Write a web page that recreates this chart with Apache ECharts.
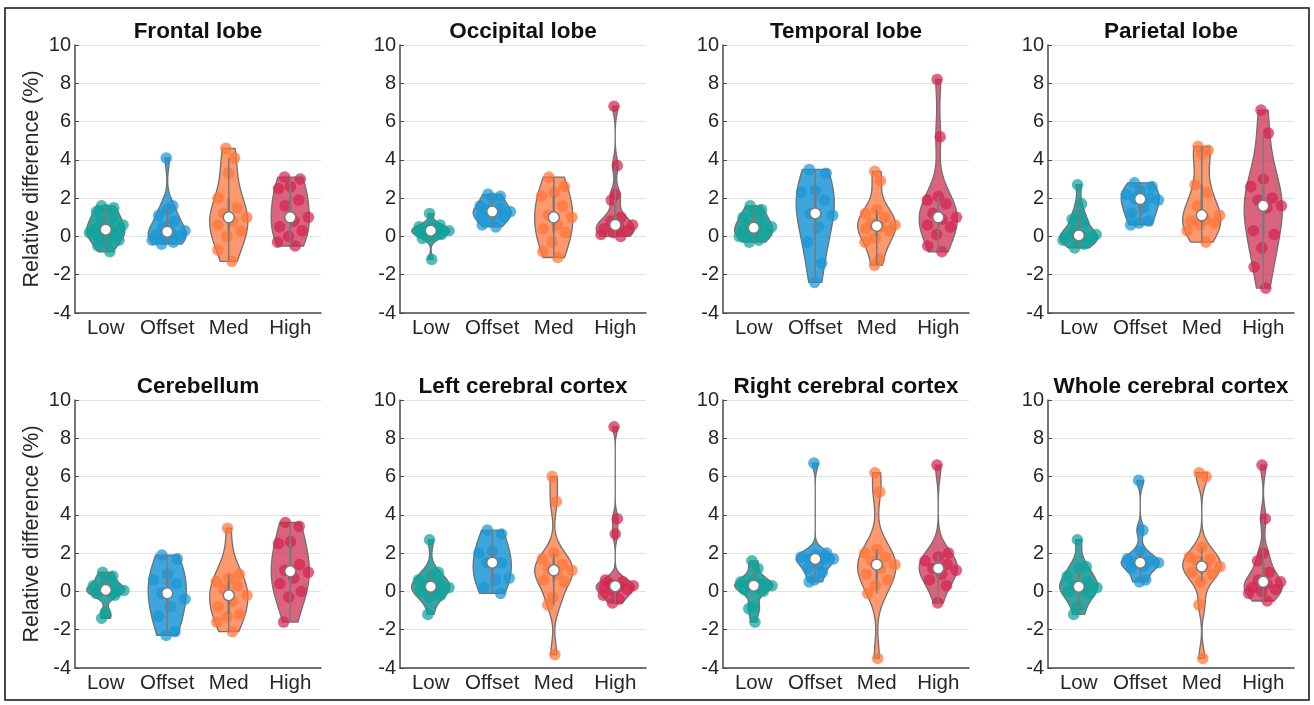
<!DOCTYPE html>
<html>
<head>
<meta charset="utf-8">
<script src="https://cdn.jsdelivr.net/npm/echarts@6/dist/echarts.min.js"></script>
<style>
  html, body { margin: 0; padding: 0; background: #fff; }
  #main { width: 1314px; height: 705px; }
</style>
</head>
<body>
<div id="main"></div>
<script>
// groups on the x axis of every panel
const groups = ['Low', 'Offset', 'Med', 'High'];
const regionTitles = ['Frontal lobe', 'Occipital lobe', 'Temporal lobe', 'Parietal lobe',
  'Cerebellum', 'Left cerebral cortex', 'Right cerebral cortex', 'Whole cerebral cortex'];

// relative difference (%) per subject, one list per group: Low, Offset, Med, High
const frontalLobe = [
  [1.6, 1.5, 1.4, 1.3, 1.0, 0.8, 0.6, 0.5, 0.4, 0.3, 0.3, 0.2, 0.1, 0.0, -0.2, -0.3, -0.5, -0.8],
  [4.1, 1.6, 1.4, 1.1, 0.8, 0.5, 0.3, 0.2, 0.1, 0.0, -0.1, -0.2, -0.3, -0.4],
  [4.6, 4.1, 3.3, 2.0, 1.5, 1.2, 1.0, 0.8, 0.6, 0.3, 0.0, -0.7, -1.3],
  [3.1, 3.0, 2.6, 2.5, 1.9, 1.6, 1.0, 0.8, 0.5, 0.3, 0.0, -0.3, -0.5]
];
const occipitalLobe = [
  [1.2, 0.6, 0.5, 0.5, 0.4, 0.3, 0.3, 0.2, 0.2, 0.1, 0.0, -0.1, -1.2],
  [2.2, 2.1, 2.0, 1.6, 1.5, 1.4, 1.3, 1.2, 1.1, 1.0, 0.8, 0.6, 0.5],
  [3.1, 2.6, 2.3, 2.1, 1.6, 1.1, 1.0, 0.6, 0.4, 0.2, -0.3, -0.8, -1.1],
  [6.8, 3.7, 2.2, 1.9, 1.0, 0.8, 0.6, 0.5, 0.4, 0.3, 0.2, 0.1, 0.0]
];
const temporalLobe = [
  [1.6, 1.4, 1.2, 1.0, 0.8, 0.6, 0.5, 0.4, 0.3, 0.2, 0.1, 0.0, -0.2, -0.3],
  [3.5, 3.3, 2.4, 2.3, 1.9, 1.2, 1.1, 0.5, -0.3, -1.4, -2.4],
  [3.4, 2.9, 1.4, 1.2, 1.0, 0.7, 0.6, 0.5, 0.4, 0.3, -0.1, -0.3, -1.2, -1.5],
  [8.2, 5.2, 2.1, 1.9, 1.7, 1.2, 1.0, 0.9, 0.6, 0.5, 0.1, -0.5, -0.8]
];
const parietalLobe = [
  [2.7, 1.7, 1.1, 0.9, 0.7, 0.3, 0.1, 0.0, 0.0, -0.1, -0.1, -0.2, -0.4, -0.6],
  [2.8, 2.6, 2.4, 2.2, 2.0, 2.0, 1.9, 1.5, 1.2, 0.8, 0.7, 0.6],
  [4.7, 4.5, 4.3, 2.7, 2.3, 1.6, 1.1, 0.9, 0.8, 0.7, 0.6, 0.3, -0.3],
  [6.6, 5.4, 3.0, 2.6, 2.0, 1.9, 1.6, 1.5, 0.3, 0.1, -0.6, -1.6, -2.7]
];
const cerebellum = [
  [1.0, 0.8, 0.6, 0.3, 0.2, 0.1, 0.05, 0.0, -0.1, -0.2, -1.1, -1.4],
  [1.9, 1.7, 0.9, 0.6, 0.4, -0.1, -0.4, -0.8, -1.3, -2.1, -2.3],
  [3.3, 0.9, 0.7, 0.5, 0.3, 0.1, -0.2, -0.5, -0.8, -1.2, -1.3, -1.6, -2.1],
  [3.6, 3.4, 2.6, 2.5, 1.4, 1.1, 1.0, 0.7, 0.4, 0.0, -0.3, -1.6]
];
const leftCortex = [
  [2.7, 1.0, 0.8, 0.6, 0.4, 0.3, 0.2, 0.1, 0.0, -0.2, -0.3, -1.2],
  [3.2, 3.0, 2.1, 2.0, 1.5, 1.5, 0.7, 0.6, 0.2, -0.1],
  [6.0, 4.7, 2.0, 1.7, 1.4, 1.2, 1.1, 0.9, 0.6, 0.5, -0.3, -0.7, -3.3],
  [8.6, 3.8, 3.0, 0.6, 0.5, 0.4, 0.3, 0.25, 0.2, 0.1, 0.0, -0.2, -0.4, -0.6]
];
const rightCortex = [
  [1.6, 1.2, 0.6, 0.5, 0.4, 0.35, 0.3, 0.2, 0.1, 0.0, -0.8, -0.9, -1.6],
  [6.7, 2.0, 1.9, 1.8, 1.7, 1.7, 1.7, 1.4, 1.2, 1.0, 0.6, 0.5],
  [6.2, 5.2, 2.2, 2.0, 1.8, 1.6, 1.4, 1.2, 0.9, 0.6, 0.3, -0.1, -3.5],
  [6.6, 2.0, 1.8, 1.6, 1.4, 1.2, 1.1, 0.9, 0.6, 0.3, -0.6]
];
const wholeCortex = [
  [2.7, 1.3, 1.2, 0.8, 0.5, 0.3, 0.2, 0.1, 0.0, -0.1, -0.8, -1.2],
  [5.8, 3.2, 2.1, 1.7, 1.6, 1.5, 1.5, 1.3, 1.2, 0.6, 0.5],
  [6.2, 6.0, 2.3, 1.8, 1.7, 1.6, 1.3, 1.3, 1.0, 0.9, 0.5, -0.7, -3.5],
  [6.6, 3.8, 2.0, 1.6, 1.0, 0.6, 0.5, 0.4, 0.2, 0.1, 0.0, -0.1, -0.5]
];
const panels = [frontalLobe, occipitalLobe, temporalLobe, parietalLobe,
  cerebellum, leftCortex, rightCortex, wholeCortex];

const pointColors = ['#0fa39b', '#1b95d6', '#ff7438', '#d3264f'];
const violinColors = ['rgba(16,150,144,0.85)', 'rgba(28,150,214,0.85)', 'rgba(255,128,72,0.8)', 'rgba(208,55,90,0.78)'];
const font = "'Liberation Sans', Arial, Helvetica, sans-serif";

const gridLeft = [75, 400, 723, 1048];
const gridTop = [45, 400];
const gridW = 246, gridH = 268;

function quantile(sorted, p) {
  const pos = (sorted.length - 1) * p;
  const lo = Math.floor(pos), hi = Math.ceil(pos);
  return sorted[lo] + (sorted[hi] - sorted[lo]) * (pos - lo);
}

// summary + kernel density (robust bandwidth, slightly smoothed)
function getStats(vals) {
  const s = vals.slice().sort((a, b) => a - b);
  const n = s.length;
  const med = quantile(s, 0.5);
  const dev = s.map(v => Math.abs(v - med)).sort((a, b) => a - b);
  let sig = quantile(dev, 0.5) / 0.6745;
  if (sig <= 0) sig = s[n - 1] - s[0];
  const bw = 1.2 * sig * Math.pow(4 / (3 * n), 0.2);
  const dens = y => s.reduce((acc, v) => acc + Math.exp(-0.5 * Math.pow((y - v) / bw, 2)), 0);
  const q1 = quantile(s, 0.25), q3 = quantile(s, 0.75);
  const iqr = q3 - q1;
  const loW = Math.max(q1 - 1.5 * iqr, Math.min(...s.filter(v => v >= q1 - 1.5 * iqr)));
  const hiW = Math.min(q3 + 1.5 * iqr, Math.max(...s.filter(v => v <= q3 + 1.5 * iqr)));
  const steps = 80;
  const ys = [];
  let dmax = 0;
  for (let j = 0; j <= steps; j++) {
    const y = s[0] + (s[n - 1] - s[0]) * j / steps;
    const d = dens(y);
    if (d > dmax) dmax = d;
    ys.push([y, d]);
  }
  return { s, med, q1, q3, loW, hiW, ys, dmax, dens };
}

function makeRenderer(panel) {
  const stats = panel.map(getStats);
  return function (params, api) {
    const k = api.value(0);
    const st = stats[k];
    const vals = panel[k];
    const cx = api.coord([k, 0])[0];
    const half = api.size([1, 0])[0] * 0.31;
    const children = [];

    // violin outline
    const left = [], right = [];
    st.ys.forEach(([y, d]) => {
      const py = api.coord([k, y])[1];
      const w = half * d / st.dmax;
      left.push([cx - w, py]);
      right.push([cx + w, py]);
    });
    children.push({
      type: 'polygon',
      shape: { points: left.concat(right.reverse()) },
      style: { fill: violinColors[k], stroke: '#707070', lineWidth: 1.3 }
    });

    // jittered points (spread scaled by density)
    vals.forEach((v, i) => {
      const py = api.coord([k, v])[1];
      const w = half * st.dens(v) / st.dmax;
      const sgn = ((i * 0.6180339887 + 0.27) % 1) * 2 - 1;
      children.push({
        type: 'circle',
        shape: { cx: cx + sgn * w, cy: py, r: 5.8 },
        style: { fill: pointColors[k], opacity: 0.72 }
      });
    });

    // whisker + box
    children.push({
      type: 'line',
      shape: { x1: cx, y1: api.coord([k, st.loW])[1], x2: cx, y2: api.coord([k, st.hiW])[1] },
      style: { stroke: '#7a7a7a', lineWidth: 1.5 }
    });
    children.push({
      type: 'line',
      shape: { x1: cx, y1: api.coord([k, st.q1])[1], x2: cx, y2: api.coord([k, st.q3])[1] },
      style: { stroke: '#7a7a7a', lineWidth: 2.5 }
    });
    // median
    children.push({
      type: 'circle',
      shape: { cx: cx, cy: api.coord([k, st.med])[1], r: 5.5 },
      style: { fill: '#fff', stroke: '#7a7a7a', lineWidth: 1.5 }
    });
    return { type: 'group', children };
  };
}

const grids = [], xAxes = [], yAxes = [], series = [];
const graphics = [{
  type: 'rect',
  shape: { x: 5, y: 8, width: 1304, height: 692 },
  style: { fill: 'none', stroke: '#111', lineWidth: 1.5 },
  silent: true
}];

panels.forEach((panel, i) => {
  const row = Math.floor(i / 4), col = i % 4;
  grids.push({ left: gridLeft[col], top: gridTop[row], width: gridW, height: gridH });
  xAxes.push({
    type: 'category', gridIndex: i, data: groups, boundaryGap: true,
    axisLine: { onZero: false, lineStyle: { color: '#4a4a4a', width: 1.5 } },
    axisTick: { inside: true, alignWithLabel: true, interval: 0, length: 4, lineStyle: { color: '#4a4a4a' } },
    axisLabel: { interval: 0, fontSize: 20.5, color: '#262626', margin: 5, fontFamily: font },
    splitLine: { show: false }
  });
  yAxes.push({
    type: 'value', gridIndex: i, min: -4, max: 10, interval: 2,
    axisLine: { show: true, onZero: false, lineStyle: { color: '#4a4a4a', width: 1.5 } },
    axisTick: { show: true, inside: true, length: 4, lineStyle: { color: '#4a4a4a' } },
    axisLabel: { fontSize: 20, color: '#262626', margin: 4, fontFamily: font },
    splitLine: { lineStyle: { color: '#e2e2e2', width: 1.2 } },
    name: col === 0 ? 'Relative difference (%)' : '',
    nameLocation: 'middle', nameGap: 32,
    nameTextStyle: { fontSize: 21.5, color: '#262626', fontFamily: font }
  });
  series.push({
    type: 'custom', xAxisIndex: i, yAxisIndex: i,
    data: [[0, 0], [1, 0], [2, 0], [3, 0]],
    encode: { x: 0, y: 1 },
    clip: false,
    renderItem: makeRenderer(panel)
  });
  graphics.push({
    type: 'text',
    x: gridLeft[col] + gridW / 2,
    y: gridTop[row] - 13,
    style: {
      text: regionTitles[i], textAlign: 'center', textVerticalAlign: 'middle',
      font: 'bold 22.5px ' + font, fill: '#111'
    }
  });
});

const chart = echarts.init(document.getElementById('main'));
chart.setOption({
  backgroundColor: '#fff',
  animation: false,
  grid: grids,
  xAxis: xAxes,
  yAxis: yAxes,
  series: series,
  graphic: graphics
});
</script>
</body>
</html>
